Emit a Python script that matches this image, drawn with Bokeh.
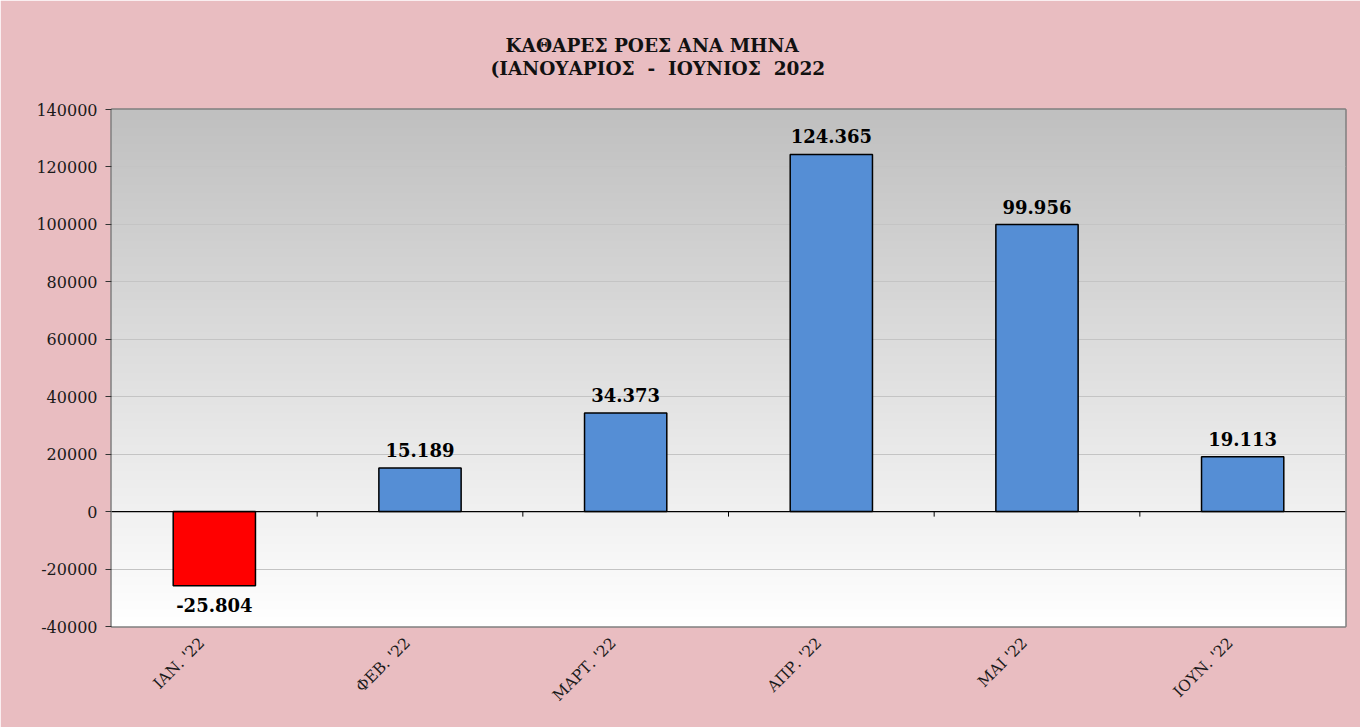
import math
import numpy as np
from bokeh.plotting import figure
from bokeh.models import (ColumnDataSource, Range1d, FixedTicker, Span, Title,
                          NumeralTickFormatter)
from bokeh.embed import file_html
from bokeh.resources import INLINE
from bokeh.core.properties import value

# ---- data ----
months = ["ΙΑΝ. '22", "ΦΕΒ. '22", "ΜΑΡΤ. '22", "ΑΠΡ. '22", "ΜΑΙ '22", "ΙΟΥΝ. '22"]
net_flows = [-25804, 15189, 34373, 124365, 99956, 19113]
y_ticks = [-40000, -20000, 0, 20000, 40000, 60000, 80000, 100000, 120000, 140000]
title_line1 = "ΚΑΘΑΡΕΣ ΡΟΕΣ ΑΝΑ ΜΗΝΑ"
title_line2 = "(ΙΑΝΟΥΑΡΙΟΣ \u00a0-\u00a0 ΙΟΥΝΙΟΣ \u00a02022"

FONT = "DejaVu Serif"
y_min, y_max = y_ticks[0], y_ticks[-1]
n = len(months)

FRAME_W, FRAME_H = 1234, 517

xs = [i + 0.5 for i in range(n)]
labels = [f"{v:,}".replace(",", ".") for v in net_flows]
colors = ["#ff0000" if v < 0 else "#558ed5" for v in net_flows]
offsets = [12 if v < 0 else -11 for v in net_flows]
baselines = ["top" if v < 0 else "bottom" for v in net_flows]

src = ColumnDataSource(dict(x=xs, top=net_flows, label=labels, color=colors,
                            yoff=offsets, baseline=baselines))

p = figure(frame_width=FRAME_W, frame_height=FRAME_H,
           x_range=Range1d(0, n), y_range=Range1d(y_min, y_max),
           output_backend="svg", toolbar_location=None, tools="",
           min_border_left=111, min_border_right=15,
           min_border_top=109, min_border_bottom=101)

p.border_fill_color = "#e9bdc1"
p.background_fill_color = "#ffffff"
p.outline_line_color = "#7f7f7f"
p.outline_line_width = 2.5

# gradient background of the plot area (grey top -> white bottom)
H = 256
img = np.empty((H, 1), dtype=np.uint32)
view = img.view(dtype=np.uint8).reshape((H, 1, 4))
g = (255 - 63 * np.arange(H) / (H - 1)).astype(np.uint8)
view[:, 0, 0] = g
view[:, 0, 1] = g
view[:, 0, 2] = g
view[:, 0, 3] = 255
p.image_rgba(image=[img], x=0, y=y_min, dw=n, dh=y_max - y_min, level="image")

# grid
p.xgrid.grid_line_color = None
p.ygrid.grid_line_color = "#c4c4c4"
p.ygrid.grid_line_width = 1
p.ygrid.ticker = FixedTicker(ticks=y_ticks)

# zero line
p.add_layout(Span(location=0, dimension="width", line_color="black", line_width=1.2))

# category boundary ticks on the zero line
tick_len = 5 * (y_max - y_min) / FRAME_H
bounds = list(range(1, n))
p.segment(x0=bounds, x1=bounds, y0=[0] * len(bounds), y1=[-tick_len] * len(bounds),
          line_color="black", line_width=1)

# bars
p.vbar(x="x", top="top", bottom=0, width=0.4, source=src, fill_color="color",
       line_color="black", line_width=1.5)

# value labels
p.text(x="x", y="top", text="label", source=src, text_align="center",
       text_baseline="baseline", y_offset="yoff", text_font=value(FONT),
       text_font_style="bold", text_font_size="18px", text_color="black")

# y axis
yax = p.yaxis[0]
yax.ticker = FixedTicker(ticks=y_ticks)
yax.formatter = NumeralTickFormatter(format="0")
yax.axis_line_color = None
yax.major_tick_out = 6
yax.major_tick_in = 0
yax.major_tick_line_color = "#333333"
yax.minor_tick_line_color = None
yax.major_label_text_font = FONT
yax.major_label_text_font_size = "16px"
yax.major_label_text_color = "#1a1a1a"
yax.major_label_standoff = 8

# x axis (rotated labels, anchored slightly left of the bar centre as in the original)
label_shift = 0.06
xtick_pos = [x - label_shift for x in xs]
xax = p.xaxis[0]
xax.ticker = FixedTicker(ticks=xtick_pos)
xax.major_label_overrides = {x: m for x, m in zip(xtick_pos, months)}
xax.axis_line_color = None
xax.major_tick_line_color = None
xax.minor_tick_line_color = None
xax.major_label_orientation = math.pi / 4
xax.major_label_text_font = FONT
xax.major_label_text_font_size = "15.5px"
xax.major_label_text_color = "#1a1a1a"
xax.major_label_standoff = 8

# two-line title; a blank spacer title keeps the gap above the plot area
p.add_layout(Title(text=" ", text_font_size="1px", standoff=28), "above")
p.add_layout(Title(text=title_line2, align="left", offset=379, text_font=FONT,
                   text_font_size="18.5px", text_font_style="bold",
                   text_color="#111111", standoff=0), "above")
p.add_layout(Title(text=title_line1, align="left", offset=394, text_font=FONT,
                   text_font_size="18.5px", text_font_style="bold",
                   text_color="#111111", standoff=0), "above")

open("out.html", "w").write(file_html(p, INLINE))
